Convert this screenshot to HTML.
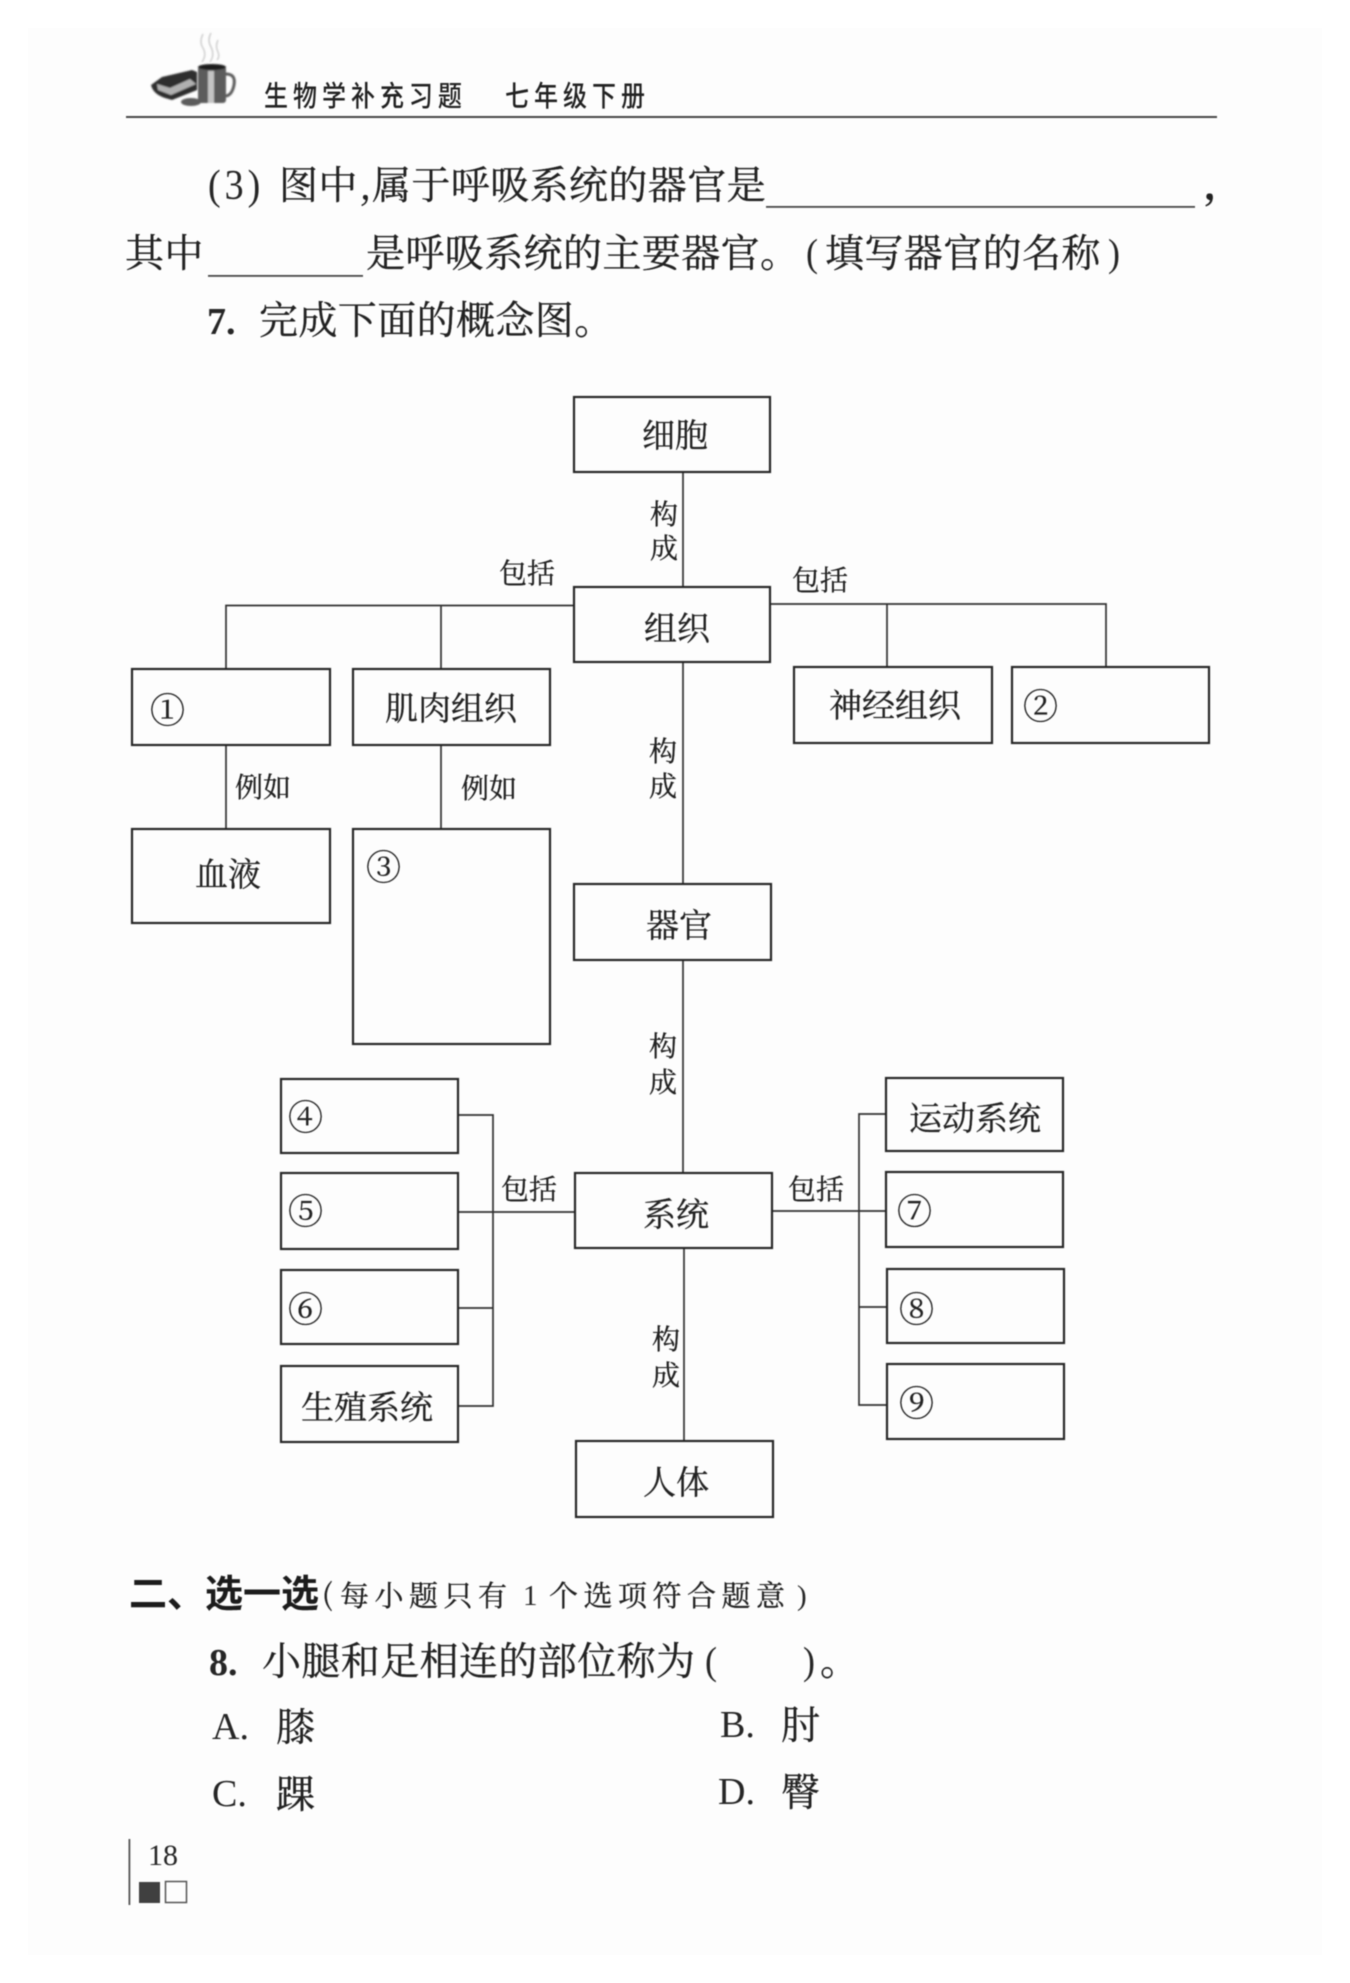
<!DOCTYPE html>
<html lang="zh">
<head>
<meta charset="utf-8">
<title>生物学补充习题 七年级下册</title>
<style>
html,body{margin:0;padding:0;background:#fff;width:1350px;height:1983px;overflow:hidden}
svg{display:block;position:absolute;left:0;top:0}
.s{font-family:"Liberation Serif","Noto Serif CJK SC",serif;fill:#262626}
.c{font-family:"Noto Serif CJK SC","Liberation Serif",serif;fill:#222;stroke:#222;stroke-width:.3px}
.m{font-size:39px;letter-spacing:.4px}
.d{font-size:33px}
.l{font-size:28px}
.n{font-size:35px}
.h{font-family:"Noto Sans CJK SC","Liberation Sans",sans-serif;font-size:24px;font-weight:500;letter-spacing:5px;fill:#222}
.b{fill:none;stroke:#252525;stroke-width:2.2}
.k{stroke:#333;stroke-width:1.7;fill:none}
</style>
</head>
<body>
<svg width="1350" height="1983" viewBox="0 0 1350 1983" xmlns="http://www.w3.org/2000/svg">
<defs><filter id="f" x="-2%" y="-2%" width="104%" height="104%"><feGaussianBlur stdDeviation="0.45"/></filter>
<filter id="g" x="-10%" y="-10%" width="120%" height="120%"><feGaussianBlur stdDeviation="0.8"/></filter></defs>
<rect x="28" y="28" width="1294" height="1927" fill="#fdfdfd"/>
<g filter="url(#f)">
<!-- header -->
<g filter="url(#g)">
<path d="M151 85 L162 77 L192 70 L197 72 L197 90 L172 100 L165 98 Q153 94 151 85Z" fill="#2e2e2e"/>
<path d="M157 84 L170 88 L190 79 L196 84 L171 95 L158 90Z" fill="#b0b0b0"/>
<rect x="198" y="66" width="28" height="37" rx="3" fill="#5c5c5c"/>
<ellipse cx="212" cy="67" rx="14" ry="3" fill="#1c1c1c"/>
<rect x="208" y="71" width="6" height="32" fill="#c4c4c4"/>
<path d="M226 74 Q236 74 234 85 Q232 95 226 96" fill="none" stroke="#5c5c5c" stroke-width="3"/>
<ellipse cx="191" cy="102" rx="10" ry="4" fill="#5c5c5c"/>
<path d="M203 34 Q199 42 203 48 Q207 55 202 62 M211 33 Q207 40 211 47 Q215 55 210 62 M218 40 Q215 46 218 52 Q220 57 217 60" fill="none" stroke="#b8b8b8" stroke-width="1"/>
</g>
<text class="h" transform="translate(264,106) scale(1,1.18)">生物学补充习题</text>
<text class="h" transform="translate(505,106) scale(1,1.18)">七年级下册</text>
<rect x="126" y="116" width="1091" height="2" fill="#4a4a4a"/>

<!-- text block -->
<text class="s" transform="translate(208,199) scale(1,1.1)" font-size="38" style="letter-spacing:4px">(3)</text>
<text class="c m" x="279" y="199">图中</text>
<text class="c m" x="359" y="199" style="letter-spacing:0">,</text>
<text class="c m" x="372" y="199">属于呼吸系统的器官是</text>
<rect x="766" y="206" width="429" height="1.8" fill="#4a4a4a"/>
<text class="c m" x="1203" y="199" font-weight="700">,</text>
<text class="c m" x="125" y="267">其中</text>
<rect x="208" y="275" width="155" height="1.8" fill="#4a4a4a"/>
<text class="c m" x="366" y="267">是呼吸系统的主要器官。</text>
<text class="s" transform="translate(806,266) scale(1,1.1)" font-size="36">(</text>
<text class="c m" x="825" y="267">填写器官的名称</text>
<text class="s" transform="translate(1108,266) scale(1,1.1)" font-size="36">)</text>
<text class="s" x="207" y="334" font-size="38" font-weight="bold">7.</text>
<text class="c m" x="259" y="334">完成下面的概念图。</text>

<!-- connectors -->
<path class="k" d="M683 472V587M683 662V884M683 960V1173M684 1248V1441"/>
<path class="k" d="M226 669V605.5H574M441 605.5V668M226 745V829M441 745V829"/>
<path class="k" d="M770 604H1106V667M887 604V667"/>
<path class="k" d="M458 1115H493V1406H458M458 1212H575M458 1308H493"/>
<path class="k" d="M886 1114H859V1405H886M772 1211H886M859 1307H886"/>

<!-- boxes -->
<rect class="b" x="574" y="397" width="196" height="75"/>
<rect class="b" x="574" y="587" width="196" height="75"/>
<rect class="b" x="132" y="669" width="198" height="76"/>
<rect class="b" x="353" y="669" width="197" height="76"/>
<rect class="b" x="794" y="667" width="198" height="76"/>
<rect class="b" x="1012" y="667" width="197" height="76"/>
<rect class="b" x="132" y="829" width="198" height="94"/>
<rect class="b" x="353" y="829" width="197" height="215"/>
<rect class="b" x="574" y="884" width="197" height="76"/>
<rect class="b" x="281" y="1079" width="177" height="74"/>
<rect class="b" x="281" y="1173" width="177" height="76"/>
<rect class="b" x="281" y="1270" width="177" height="74"/>
<rect class="b" x="281" y="1366" width="177" height="76"/>
<rect class="b" x="575" y="1173" width="197" height="75"/>
<rect class="b" x="576" y="1441" width="197" height="76"/>
<rect class="b" x="886" y="1078" width="177" height="73"/>
<rect class="b" x="886" y="1172" width="177" height="75"/>
<rect class="b" x="887" y="1269" width="177" height="74"/>
<rect class="b" x="887" y="1364" width="177" height="75"/>

<!-- box labels -->
<text class="c d" x="642" y="447">细胞</text>
<text class="c d" x="644" y="640">组织</text>
<text class="c d" x="385" y="720">肌肉组织</text>
<text class="c d" x="829" y="717">神经组织</text>
<text class="c d" x="195" y="886">血液</text>
<text class="c d" x="646" y="937">器官</text>
<text class="c d" x="643" y="1226">系统</text>
<text class="c d" x="643" y="1494">人体</text>
<text class="c d" x="909" y="1130">运动系统</text>
<text class="c d" x="301" y="1419">生殖系统</text>

<text class="c n" x="150" y="723">①</text>
<text class="c n" x="1023" y="719">②</text>
<text class="c n" x="366" y="880">③</text>
<text class="c n" x="288" y="1130">④</text>
<text class="c n" x="288" y="1224">⑤</text>
<text class="c n" x="288" y="1322">⑥</text>
<text class="c n" x="897" y="1224">⑦</text>
<text class="c n" x="899" y="1322">⑧</text>
<text class="c n" x="899" y="1416">⑨</text>

<!-- connector labels -->
<text class="c l" x="650" y="524">构</text><text class="c l" x="650" y="558">成</text>
<text class="c l" x="649" y="761">构</text><text class="c l" x="649" y="796">成</text>
<text class="c l" x="649" y="1056">构</text><text class="c l" x="649" y="1092">成</text>
<text class="c l" x="652" y="1349">构</text><text class="c l" x="652" y="1385">成</text>
<text class="c l" x="499" y="583">包括</text>
<text class="c l" x="792" y="590">包括</text>
<text class="c l" x="235" y="797">例如</text>
<text class="c l" x="461" y="798">例如</text>
<text class="c l" x="501" y="1199">包括</text>
<text class="c l" x="788" y="1199">包括</text>

<!-- section two -->
<text x="129" y="1607" font-family="'Noto Sans CJK SC',sans-serif" font-weight="700" font-size="38" fill="#1e1e1e">二、选一选</text>
<g style="letter-spacing:5.5px">
<text class="c" x="322" y="1605" font-size="29">(</text>
<text class="c" x="340" y="1606" font-size="29">每小题只有</text>
<text class="s" x="523" y="1605" font-size="29">1</text>
<text class="c" x="549" y="1606" font-size="29">个选项符合题意</text>
<text class="s" x="797" y="1605" font-size="29">)</text>
</g>
<text class="s" x="209" y="1675" font-size="38" font-weight="bold">8.</text>
<text class="c m" x="262" y="1675">小腿和足相连的部位称为</text>
<text class="s" transform="translate(705,1674) scale(1,1.1)" font-size="36">(</text>
<text class="s" transform="translate(803,1674) scale(1,1.1)" font-size="36">)</text>
<text class="c m" x="820" y="1675">。</text>
<text class="s" x="212" y="1739" font-size="38">A.</text>
<text class="c m" x="276" y="1741">膝</text>
<text class="s" x="720" y="1737" font-size="38">B.</text>
<text class="c m" x="781" y="1739">肘</text>
<text class="s" x="212" y="1806" font-size="38">C.</text>
<text class="c m" x="276" y="1808">踝</text>
<text class="s" x="718" y="1804" font-size="38">D.</text>
<text class="c m" x="781" y="1806">臀</text>

<!-- folio -->
<rect x="128.500" y="1839" width="1.8" height="66" fill="#555"/>
<text class="s" x="148" y="1865" font-size="30">18</text>
<rect x="139" y="1882" width="21" height="21" fill="#3f3f3f"/>
<rect x="165.500" y="1881.500" width="21" height="21" fill="none" stroke="#555" stroke-width="1.500"/>
</g>
</svg>
</body>
</html>
